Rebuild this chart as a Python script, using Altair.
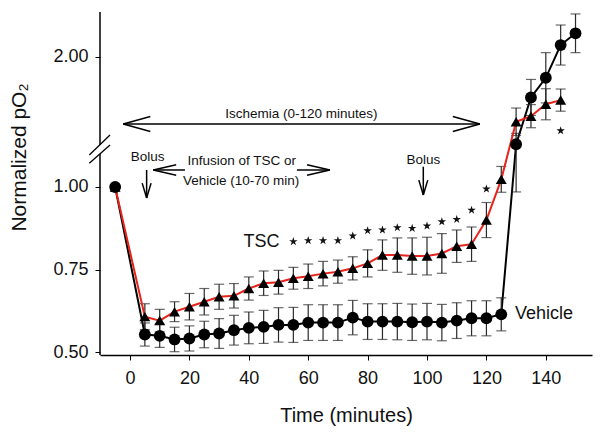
import altair as alt
import pandas as pd

# ---------------- data ----------------
tsc_time = [-5, 5, 10, 15, 20, 25, 30, 35, 40, 45, 50, 55, 60, 65, 70, 75,
            80, 85, 90, 95, 100, 105, 110, 115, 120, 125, 130, 135, 140, 145]
tsc_mean = [1.00, 0.608, 0.596, 0.623, 0.638, 0.653, 0.668, 0.671, 0.693, 0.709,
            0.712, 0.724, 0.730, 0.738, 0.744, 0.754, 0.769, 0.794, 0.794, 0.791,
            0.791, 0.799, 0.821, 0.827, 0.900, 1.023, 1.607, 1.641, 1.713, 1.738]
tsc_err = [0.0, 0.039, 0.034, 0.030, 0.040, 0.040, 0.038, 0.037, 0.035, 0.037,
           0.036, 0.033, 0.037, 0.037, 0.035, 0.035, 0.041, 0.046, 0.052, 0.055,
           0.057, 0.060, 0.049, 0.052, 0.053, 0.039, 0.083, 0.070, 0.094, 0.067]

veh_time = [-5, 5, 10, 15, 20, 25, 30, 35, 40, 45, 50, 55, 60, 65, 70, 75,
            80, 85, 90, 95, 100, 105, 110, 115, 120, 125, 130, 135, 140, 145, 150]
veh_mean = [1.00, 0.554, 0.550, 0.539, 0.542, 0.554, 0.557, 0.567, 0.574, 0.577,
            0.583, 0.583, 0.590, 0.590, 0.590, 0.605, 0.593, 0.593, 0.593, 0.591,
            0.593, 0.590, 0.596, 0.603, 0.603, 0.615, 1.471, 1.754, 1.873, 2.071, 2.142]
veh_err_up = [0.0, 0.035, 0.035, 0.037, 0.038, 0.040, 0.045, 0.045, 0.048, 0.050,
              0.052, 0.053, 0.054, 0.054, 0.054, 0.052, 0.054, 0.054, 0.055, 0.055,
              0.055, 0.055, 0.054, 0.053, 0.053, 0.050, 0.066, 0.109, 0.152, 0.121, 0.117]
veh_err_down = [0.0, 0.035, 0.035, 0.037, 0.038, 0.040, 0.045, 0.045, 0.048, 0.050,
                0.052, 0.053, 0.054, 0.054, 0.054, 0.052, 0.054, 0.054, 0.055, 0.055,
                0.055, 0.055, 0.054, 0.053, 0.053, 0.050, 0.486, 0.109, 0.152, 0.121, 0.117]

star_time = [55, 60, 65, 70, 75, 80, 85, 90, 95, 100, 105, 110, 115, 120, 145]
star_value = [0.835, 0.838, 0.838, 0.838, 0.852, 0.868, 0.870, 0.877, 0.875,
              0.882, 0.895, 0.902, 0.930, 0.994, 1.553]

y_tick_values = [0.50, 0.75, 1.00, 2.00]
x_tick_values = [0, 20, 40, 60, 80, 100, 120, 140]

# ---------------- broken y axis: values above the break are compressed ----------------
BREAK_LIMIT = 1.25
UPPER_REF = 2.0
UPPER_POS = 1.3936
UPPER_RATIO = 0.5


def brk(v):
    return v if v <= BREAK_LIMIT else UPPER_POS + (v - UPPER_REF) * UPPER_RATIO


def brk_expr(f):
    return (f"datum.{f} <= {BREAK_LIMIT} ? datum.{f} : "
            f"{UPPER_POS} + (datum.{f} - {UPPER_REF}) * {UPPER_RATIO}")


tsc = pd.DataFrame({"time": tsc_time, "mean": tsc_mean,
                    "lo": [m - e for m, e in zip(tsc_mean, tsc_err)],
                    "hi": [m + e for m, e in zip(tsc_mean, tsc_err)],
                    "has": [e > 0 for e in tsc_err]})
veh = pd.DataFrame({"time": veh_time, "mean": veh_mean,
                    "lo": [m - e for m, e in zip(veh_mean, veh_err_down)],
                    "hi": [m + e for m, e in zip(veh_mean, veh_err_up)],
                    "has": [e > 0 for e in veh_err_up]})
stars = pd.DataFrame({"time": star_time, "mean": star_value})

FONT = "Liberation Sans"
X_DOMAIN = [-10.1, 155.55]
Y_DOMAIN = [0.492, 1.529]

xscale = alt.Scale(domain=X_DOMAIN, nice=False, zero=False)
yscale = alt.Scale(domain=Y_DOMAIN, nice=False, zero=False)

xaxis = alt.Axis(values=x_tick_values, title="Time (minutes)", grid=False, orient="bottom",
                 tickSize=5, tickColor="black", domainColor="black", domainWidth=1.5,
                 labelFontSize=18, labelFont=FONT, labelColor="#111", labelPadding=9,
                 titleFont=FONT, titleFontSize=20, titleFontWeight="normal",
                 titleColor="#111", titleY=66, titleBaseline="alphabetic")
yaxis = alt.Axis(values=[brk(v) for v in y_tick_values], orient="left",
                 labelExpr=(f"format(datum.value <= {BREAK_LIMIT} ? datum.value : "
                            f"{UPPER_REF} + (datum.value - {UPPER_POS}) / {UPPER_RATIO}, '.2f')"),
                 title="Normalized pO₂", grid=False, domain=False,
                 tickSize=5, tickColor="black",
                 labelFontSize=18, labelFont=FONT, labelColor="#111", labelPadding=7,
                 titleFont=FONT, titleFontSize=21, titleFontWeight="normal", titleColor="#111",
                 titleAngle=270, titleX=-81, titleY=145, titleAlign="center",
                 titleBaseline="middle")


def X(f):
    return alt.X(f"{f}:Q", scale=xscale, axis=xaxis)


def Y(f):
    return alt.Y(f"{f}:Q", scale=yscale, axis=yaxis)


def series(df):
    return (alt.Chart(df)
            .transform_calculate(d=brk_expr("mean"), dlo=brk_expr("lo"), dhi=brk_expr("hi")))


ERR_COLOR = "#2a2a2a"


def errbars(df):
    base = series(df).transform_filter("datum.has")
    r = base.mark_rule(color=ERR_COLOR, strokeWidth=1.2).encode(x=X("time"), y=Y("dlo"), y2="dhi:Q")
    t1 = base.mark_tick(color=ERR_COLOR, thickness=1.2, size=10, orient="horizontal").encode(
        x=X("time"), y=Y("dlo"))
    t2 = base.mark_tick(color=ERR_COLOR, thickness=1.2, size=10, orient="horizontal").encode(
        x=X("time"), y=Y("dhi"))
    return [r, t1, t2]


veh_line = series(veh).mark_line(color="black", strokeWidth=2).encode(
    x=X("time"), y=Y("d"), order="time:Q")
tsc_line = series(tsc).mark_line(color="#e8231c", strokeWidth=2).encode(
    x=X("time"), y=Y("d"), order="time:Q")
tsc_pts = series(tsc).mark_point(shape="triangle-up", filled=True, color="black",
                                 size=120, opacity=1).encode(x=X("time"), y=Y("d"))
veh_pts = series(veh).mark_point(shape="circle", filled=True, color="black",
                                 size=140, opacity=1).encode(x=X("time"), y=Y("d"))
STAR_PATH = ("M0,-1L0.2245,-0.309L0.951,-0.309L0.363,0.118L0.588,0.809L0,0.382"
             "L-0.588,0.809L-0.363,0.118L-0.951,-0.309L-0.2245,-0.309Z")
star_pts = (alt.Chart(stars).transform_calculate(d=brk_expr("mean"))
            .mark_point(shape=STAR_PATH, filled=True, color="#111", size=80, opacity=1)
            .encode(x=X("time"), y=Y("d")))

# ---------------- annotations (time / display-axis units) ----------------
segs = []


def harrow(t1, t2, d, head, half, left=True, right=True):
    segs.append((t1, d, t2, d))
    if left:
        segs.append((t1, d, t1 + head, d + half))
        segs.append((t1, d, t1 + head, d - half))
    if right:
        segs.append((t2, d, t2 - head, d + half))
        segs.append((t2, d, t2 - head, d - half))


def darrow(t, d_top, d_tip, head, half):
    segs.append((t, d_top, t, d_tip))
    segs.append((t, d_tip, t - half, d_tip + head))
    segs.append((t, d_tip, t + half, d_tip + head))


harrow(-2.26, 117.8, 1.1904, 9.1, 0.0227)
harrow(7.85, 18.5, 1.0514, 7.7, 0.016, left=True, right=False)
harrow(56.2, 67.3, 1.0514, 7.7, 0.016, left=False, right=True)
darrow(5.6, 1.0514, 0.9667, 0.045, 1.5)
darrow(98.75, 1.0613, 0.9758, 0.045, 1.5)

seg_df = pd.DataFrame(segs, columns=["t1", "d1", "t2", "d2"])
arrows = alt.Chart(seg_df).mark_rule(color="black", strokeWidth=1.5).encode(
    x=X("t1"), y=Y("d1"), x2="t2:Q", y2="d2:Q")

text_c = pd.DataFrame({
    "time": [57.7, 37.6, 37.4, 5.9, 98.8, 44.3],
    "d": [1.2207, 1.0786, 1.0181, 1.0892, 1.0816, 0.8346],
    "label": ["Ischemia (0-120 minutes)", "Infusion of TSC or", "Vehicle (10-70 min)",
              "Bolus", "Bolus", "TSC"],
    "fs": [13.5, 13.5, 13.5, 13.5, 13.5, 18],
})
text_l = pd.DataFrame({"time": [129.6], "d": [0.6161], "label": ["Vehicle"], "fs": [18]})

texts_c = alt.Chart(text_c).mark_text(font=FONT, color="#111", align="center",
                                      baseline="middle").encode(
    x=X("time"), y=Y("d"), text="label:N", size=alt.Size("fs:Q", scale=None, legend=None))
texts_l = alt.Chart(text_l).mark_text(font=FONT, color="#111", align="left",
                                      baseline="middle").encode(
    x=X("time"), y=Y("d"), text="label:N", size=alt.Size("fs:Q", scale=None, legend=None))

# y-axis line drawn in two pieces around the break, plus the break marks
axis_df = pd.DataFrame({"a": [0.492, 1.127], "b": [1.0998, 1.529]})
yline = alt.Chart(axis_df).mark_rule(color="black", strokeWidth=1.5).encode(
    x=alt.value(0), y=Y("a"), y2="b:Q")
one = pd.DataFrame({"k": [0]})
slash1 = alt.Chart(one).mark_rule(color="black", strokeWidth=1.3).encode(
    x=alt.value(-10.7), y=alt.value(143), x2=alt.value(10), y2=alt.value(123))
slash2 = alt.Chart(one).mark_rule(color="black", strokeWidth=1.3).encode(
    x=alt.value(-10.7), y=alt.value(151.3), x2=alt.value(10), y2=alt.value(133))

layers = ([veh_line] + errbars(veh) + errbars(tsc) +
          [tsc_line, tsc_pts, veh_pts, star_pts, arrows, texts_c, texts_l,
           yline, slash1, slash2])

chart = alt.layer(*layers).properties(
    width=492, height=343, autosize="none",
    padding={"left": 92, "top": 4, "right": 1, "bottom": 73},
    background="white",
).configure_view(stroke=None)

chart.save("out.html", embed_options={"renderer": "svg", "actions": False})
